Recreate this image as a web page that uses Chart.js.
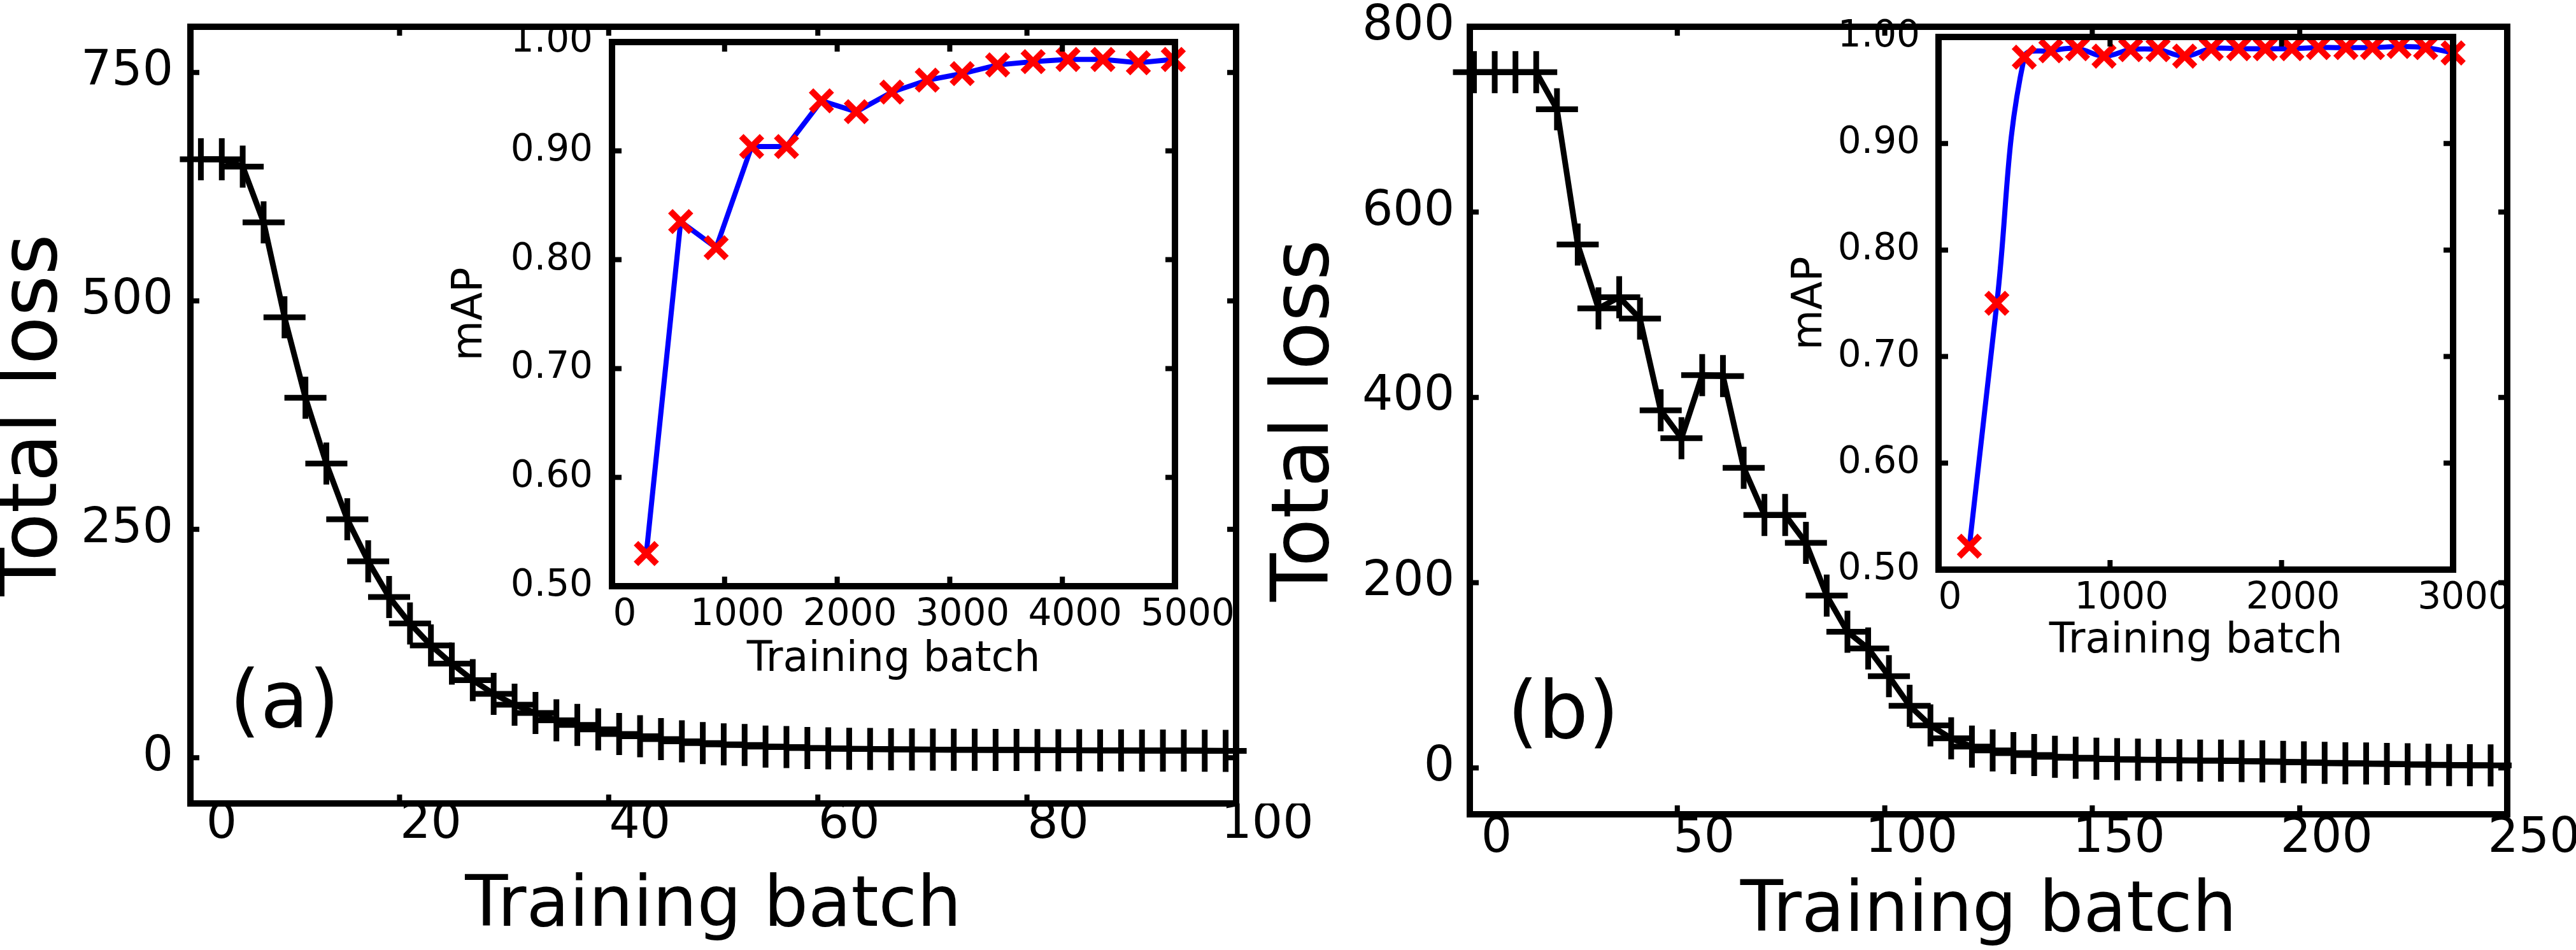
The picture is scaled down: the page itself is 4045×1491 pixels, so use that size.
<!DOCTYPE html>
<html>
<head>
<meta charset="utf-8">
<title>Total loss and mAP vs training batch</title>
<script src="https://cdn.jsdelivr.net/npm/chart.js@4.4.1/dist/chart.umd.min.js"></script>
<style>
  html, body { margin: 0; padding: 0; background: #fff; }
  #fig { position: relative; width: 4045px; height: 1491px; overflow: hidden; background: #fff; }
  #fig canvas { position: absolute; top: 0; }
</style>
</head>
<body>
<div id="fig">
  <canvas id="lossA" width="2100" height="1491" style="left:0px"></canvas>
  <canvas id="lossB" width="2065" height="1491" style="left:1980px"></canvas>
  <canvas id="mapA" width="1280" height="1085" style="left:680px"></canvas>
  <canvas id="mapB" width="1170" height="1050" style="left:2780px"></canvas>
</div>
<script>
// ---- data: panel (a) ----
const batchA = [1, 3, 5, 7, 9, 11, 13, 15, 17, 19, 21, 23, 25, 27, 29, 31, 33, 35, 37, 39,
                41, 43, 45, 47, 49, 51, 53, 55, 57, 59, 61, 63, 65, 67, 69, 71, 73, 75, 77, 79,
                81, 83, 85, 87, 89, 91, 93, 95, 97, 99];
const lossA = [655, 655, 647, 586, 482, 394, 322, 261, 215, 176, 147, 123, 103, 85, 70, 58, 49, 41, 36, 31,
               26, 23.5, 20.5, 18, 16, 14.7, 14, 12.3, 11.7, 10.7, 10.4, 9.8, 9.6, 9.3, 9.1, 8.9, 8.8, 8.7, 8.6, 8.5,
               8.4, 8.3, 8.2, 8.1, 8.0, 7.9, 7.8, 7.8, 7.7, 7.6];
const mapBatchA = [305, 610, 925, 1240, 1550, 1860, 2170, 2485, 2800, 3110, 3425, 3740, 4050, 4360, 4675, 4985];
const mapA = [0.530, 0.835, 0.811, 0.904, 0.904, 0.946, 0.936, 0.954, 0.965, 0.971, 0.979, 0.982, 0.984, 0.984, 0.981, 0.984];

// ---- data: panel (b) ----
const batchB = [1, 6, 11, 16, 21, 26, 31, 36, 41, 46, 51, 56, 61, 66, 71, 76, 81, 86, 91, 96,
                101, 106, 111, 116, 121, 126, 131, 136, 141, 146, 151, 156, 161, 166, 171, 176, 181, 186, 191, 196,
                201, 206, 211, 216, 221, 226, 231, 236, 241, 246];
const lossB = [751, 751, 751, 751, 711, 565, 496, 508, 485, 386, 356, 424, 423, 324, 273, 273, 243, 186, 147, 129,
               99, 67, 46, 32, 23, 19, 16, 14, 12, 11, 10, 9.5, 9, 8.7, 8.3, 8, 7.9, 7.5, 7, 6.5,
               6, 5.5, 5, 4.8, 4.3, 3.9, 3.5, 3.2, 2.9, 2.7];
const mapBatchB = [180, 340, 500, 655, 810, 965, 1120, 1280, 1435, 1590, 1750, 1905, 2060, 2215, 2375, 2530, 2685, 2840, 3000];
const mapB = [0.522, 0.750, 0.981, 0.987, 0.989, 0.982, 0.988, 0.988, 0.982, 0.989, 0.989, 0.989, 0.989, 0.990, 0.990, 0.990, 0.991, 0.990, 0.985];

// ---- tick labels ----
const lossTicksA = [0, 250, 500, 750];
const lossTicksB = [0, 200, 400, 600, 800];
const batchTicksA = [0, 20, 40, 60, 80, 100];
const batchTicksB = [0, 50, 100, 150, 200, 250];
const mapTicks = [0.5, 0.6, 0.7, 0.8, 0.9, 1.0];
const mapBatchTicksA = [0, 1000, 2000, 3000, 4000, 5000];
const mapBatchTicksB = [0, 1000, 2000, 3000];

const FONT = "'DejaVu Sans', sans-serif";
Chart.defaults.font.family = FONT;
Chart.defaults.color = '#000';

// box around the plot area, with inward ticks on all four sides
const framePlugin = {
  id: 'frame',
  afterDatasetsDraw(chart, args, o) {
    const { ctx, chartArea: a, scales } = chart;
    ctx.save();
    ctx.strokeStyle = '#000';
    ctx.lineWidth = o.tickWidth;
    ctx.beginPath();
    scales.x.ticks.forEach(t => {
      const px = scales.x.getPixelForValue(t.value);
      ctx.moveTo(px, a.bottom); ctx.lineTo(px, a.bottom - o.tickLen);
      ctx.moveTo(px, a.top); ctx.lineTo(px, a.top + o.tickLen);
    });
    scales.y.ticks.forEach(t => {
      const py = scales.y.getPixelForValue(t.value);
      ctx.moveTo(a.left, py); ctx.lineTo(a.left + o.tickLen, py);
      ctx.moveTo(a.right, py); ctx.lineTo(a.right - o.tickLen, py);
    });
    ctx.stroke();
    ctx.lineWidth = o.width;
    ctx.strokeRect(a.left, a.top, a.right - a.left, a.bottom - a.top);
    ctx.restore();
  }
};

// "(a)" / "(b)" tag, placed in data coordinates
const panelLabel = {
  id: 'panelLabel',
  afterDraw(chart, args, o) {
    if (!o.text) return;
    const { ctx, scales } = chart;
    ctx.save();
    ctx.font = o.size + 'px ' + FONT;
    ctx.fillStyle = '#000';
    ctx.textAlign = 'center';
    ctx.textBaseline = 'middle';
    ctx.fillText(o.text, scales.x.getPixelForValue(o.x), scales.y.getPixelForValue(o.y));
    ctx.restore();
  }
};

function makeChart(id, cfg) {
  const ds = {
    data: cfg.xs.map((x, i) => ({ x: x, y: cfg.ys[i] })),
    borderColor: cfg.lineColor,
    borderWidth: cfg.lineWidth,
    pointStyle: cfg.pointStyle,
    pointRadius: cfg.pointRadius,
    pointBorderWidth: cfg.markerWidth,
    pointBorderColor: cfg.pointColor,
    pointBackgroundColor: cfg.pointColor,
    tension: cfg.tension,
    fill: false,
    clip: false
  };

  return new Chart(document.getElementById(id), {
    type: 'line',
    data: { datasets: [ds] },
    plugins: [framePlugin, panelLabel],
    options: {
      responsive: false,
      devicePixelRatio: 1,
      animation: false,
      events: [],
      layout: { padding: { top: cfg.padTop, right: cfg.padRight, left: 0, bottom: 0 } },
      plugins: {
        legend: { display: false },
        tooltip: { enabled: false },
        frame: { width: 10, tickLen: cfg.tickLen, tickWidth: 8 },
        panelLabel: cfg.tag || {}
      },
      scales: {
        x: {
          type: 'linear',
          min: cfg.xMin, max: cfg.xMax,
          afterBuildTicks: s => { s.ticks = cfg.xTicks.map(v => ({ value: v })); },
          afterFit: s => { s.height = cfg.xHeight; s.paddingLeft = 0; s.paddingRight = 0; },
          grid: { display: false, drawTicks: false },
          border: { display: false },
          ticks: {
            color: '#000',
            font: { size: cfg.tickSize, lineHeight: 0.9 },
            padding: cfg.xTickPad,
            labelOffset: cfg.labelOffset,
            maxRotation: 0,
            autoSkip: false,
            callback: v => String(v)
          },
          title: {
            display: true,
            text: 'Training batch',
            color: '#000',
            font: { size: cfg.xTitleSize, lineHeight: 1 },
            padding: { top: 0, bottom: cfg.xTitlePad }
          }
        },
        y: {
          type: 'linear',
          min: cfg.yMin, max: cfg.yMax,
          afterBuildTicks: s => { s.ticks = cfg.yTicks.map(v => ({ value: v })); },
          afterFit: s => { s.width = cfg.yWidth; s.paddingTop = 0; s.paddingBottom = 0; },
          grid: { display: false, drawTicks: false },
          border: { display: false },
          ticks: {
            color: '#000',
            font: { size: cfg.tickSize, lineHeight: 0.9 },
            padding: cfg.yTickPad,
            autoSkip: false,
            callback: cfg.yFormat
          },
          title: {
            display: true,
            text: cfg.yTitle,
            color: '#000',
            font: { size: cfg.yTitleSize, lineHeight: cfg.yTitleLh },
            padding: { top: cfg.yTitlePad, bottom: 0 }
          }
        }
      }
    }
  });
}

// main loss curves
const lossStyle = {
  lineColor: '#000', pointColor: '#000', pointStyle: 'cross', pointRadius: 33, tension: 0,
  lineWidth: 9, markerWidth: 9,
  yMin: -50, yMax: 800, tickSize: 76, tickLen: 14,
  xTitleSize: 110, yTitle: 'Total loss', yTitleSize: 124, yTitleLh: 0.68,
  yFormat: v => String(v)
};

makeChart('lossA', Object.assign({}, lossStyle, {
  xs: batchA, ys: lossA, xMin: 0, xMax: 100,
  xTicks: batchTicksA, yTicks: lossTicksA,
  padTop: 37, padRight: 159, xHeight: 230, yWidth: 299,
  xTickPad: 0, labelOffset: 49, xTitlePad: 12, yTickPad: 27, yTitlePad: 14,
  tag: { text: '(a)', x: 9, y: 56, size: 124 }
}));

makeChart('lossB', Object.assign({}, lossStyle, {
  xs: batchB, ys: lossB, xMin: 0, xMax: 250,
  xTicks: batchTicksB, yTicks: lossTicksB,
  padTop: 29, padRight: 108, xHeight: 213, yWidth: 328,
  xTickPad: 5, labelOffset: 42, xTitlePad: 4, yTickPad: 24, yTitlePad: 31,
  tag: { text: '(b)', x: 22.5, y: 55, size: 124 }
}));

// insets: mAP
const mapStyle = {
  lineColor: '#0000ff', pointColor: '#ff0000', pointStyle: 'crossRot', pointRadius: 23,
  lineWidth: 8, markerWidth: 10,
  yMin: 0.5, yMax: 1.0, yTicks: mapTicks, tickSize: 58, tickLen: 15,
  xTitleSize: 65, yTitle: 'mAP', yTitleSize: 65, yTitleLh: 1,
  yFormat: v => Number(v).toFixed(2)
};

makeChart('mapA', Object.assign({}, mapStyle, {
  xs: mapBatchA, ys: mapA, xMin: 0, xMax: 5000, xTicks: mapBatchTicksA, tension: 0,
  padTop: 66, padRight: 115, xHeight: 165, yWidth: 281,
  xTickPad: 20, labelOffset: 20, xTitlePad: 16, yTickPad: 30, yTitlePad: 27
}));

makeChart('mapB', Object.assign({}, mapStyle, {
  xs: mapBatchB, ys: mapB, xMin: 0, xMax: 3000, xTicks: mapBatchTicksB, tension: 0.4,
  padTop: 58, padRight: 98, xHeight: 156, yWidth: 264,
  xTickPad: 20, labelOffset: 18, xTitlePad: 10, yTickPad: 29, yTitlePad: 31
}));
</script>
</body>
</html>
